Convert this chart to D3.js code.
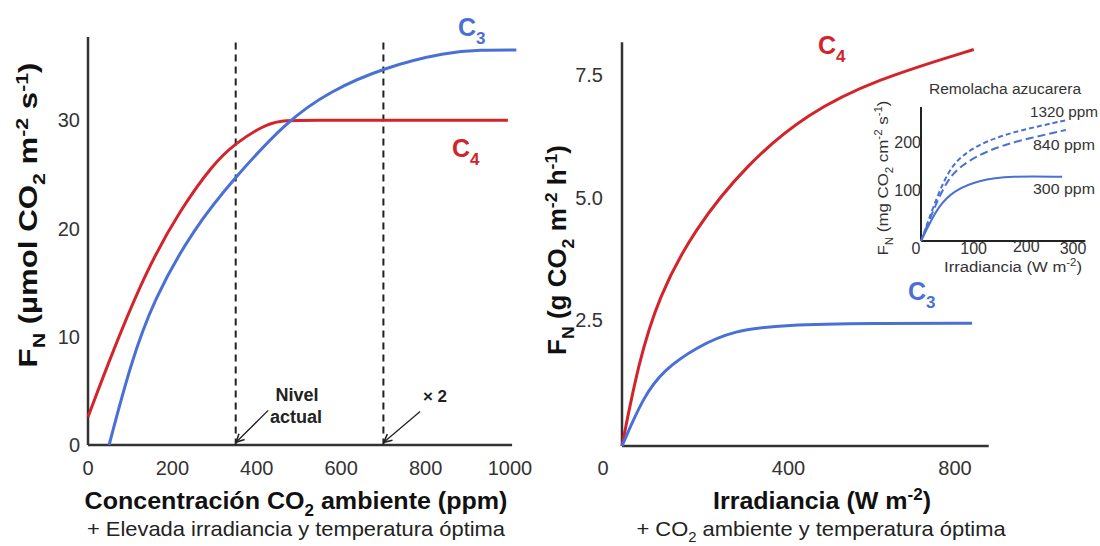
<!DOCTYPE html>
<html><head><meta charset="utf-8">
<script src="https://cdn.jsdelivr.net/npm/d3@7"></script>
<style>body{margin:0;background:#fff}svg{display:block}text{font-family:"Liberation Sans",Arial,sans-serif}</style>
</head><body><svg id="c" width="1100" height="546"></svg>
<script>
// ---------- DATA ----------
// Left panel: FN (µmol CO2 m-2 s-1) vs ambient CO2 (ppm)
const co2C4 = [[0,2.6],[60,8.8],[139,16.2],[218,21.7],[297,26.0],[350,27.9],[415,29.5],[455,30],[520,30],[750,30],[995,30]];
const co2C3 = [[50,0],[100,7.4],[155,13.4],[250,20.0],[350,24.8],[470,29.9],[573,32.7],[703,34.9],[850,36.3],[930,36.5],[1015,36.5]];
const co2XTicks = [0,200,400,600,800,1000];
const co2YTicks = [0,10,20,30];
const co2Marks = [350,700];           // nivel actual, x2
// Right panel: FN (g CO2 m-2 h-1) vs irradiance (W m-2)
const irrC4 = [[0,0],[39,1.68],[88,3.04],[172,4.40],[301,5.76],[446,6.78],[607,7.46],[845,8.08]];
const irrC3 = [[0,0],[51,1.0],[100,1.55],[180,2.02],[269,2.36],[390,2.47],[600,2.5],[841,2.5]];
const irrXTicks = [0,400,800];
const irrYTicks = ["2.5","5.0","7.5"];
// Inset: sugar beet, FN (mg CO2 cm-2 s-1) vs irradiance
const beet300 = [[0,0],[33,75],[64,106],[108,127],[171,136],[268,134]];
const beet840 = [[0,0],[45,124],[77,159],[127,190],[190,211],[275,232]];
const beet1320 = [[0,0],[45,138],[77,180],[127,211],[190,232],[278,253]];
const insetXTicks = [0,100,200,300];
const insetYTicks = [100,200];
const insetSeries = ["1320 ppm","840 ppm","300 ppm"];

const RED = "#d3232b", BLUE = "#4a70d6", AX = "#333";
const svg = d3.select("#c");

function rich(sel, parts, fs){
  let shift = 0;
  parts.forEach(p => {
    const [t, k] = typeof p === "string" ? [p, ""] : p;
    const target = k === "sub" ? 0.3*fs : k === "sup" ? -0.38*fs : 0;
    sel.append("tspan").attr("dy", target - shift).attr("font-size", k ? fs*0.68 : fs).text(t);
    shift = target;
  });
  return sel;
}
// place a text centred at (cx,cy) [baseline], rotated, stretched along its length to target width
function fit(sel, cx, cy, rot, target){
  sel.attr("text-anchor","middle");
  const w = sel.node().getBBox().width;
  sel.attr("transform", `translate(${cx},${cy}) rotate(${rot}) scale(${target/w},1)`);
  return sel;
}
const line = (x, y) => d3.line().x(d => x(d[0])).y(d => y(d[1])).curve(d3.curveBasis);

// ---------- LEFT PANEL ----------
const xL = d3.scaleLinear().domain([0,1000]).range([88,510]);
const yL = d3.scaleLinear().domain([0,37.7]).range([445,37]);
const gL = svg.append("g");
gL.append("line").attr("x1",xL(0)).attr("x2",xL(1005)).attr("y1",yL(0)).attr("y2",yL(0)).attr("stroke",AX).attr("stroke-width",2.5);
gL.append("line").attr("x1",xL(0)).attr("x2",xL(0)).attr("y1",yL(0)).attr("y2",yL(37.7)).attr("stroke",AX).attr("stroke-width",2.5);
gL.selectAll(".xt").data(co2XTicks).join("text").attr("x",d=>xL(d)).attr("y",475).attr("text-anchor","middle")
  .attr("font-size",20).attr("fill",AX).text(d=>d);
gL.selectAll(".yt").data(co2YTicks).join("text").attr("x",80).attr("y",d=>yL(d)+7).attr("text-anchor","end")
  .attr("font-size",20).attr("fill",AX).text(d=>d);
gL.selectAll(".dash").data(co2Marks).join("line").attr("x1",d=>xL(d)).attr("x2",d=>xL(d))
  .attr("y1",yL(37.2)).attr("y2",yL(0)).attr("stroke","#222").attr("stroke-width",2).attr("stroke-dasharray","7,5");
gL.append("path").attr("d",line(xL,yL)(co2C4)).attr("fill","none").attr("stroke",RED).attr("stroke-width",3);
gL.append("path").attr("d",line(xL,yL)(co2C3)).attr("fill","none").attr("stroke",BLUE).attr("stroke-width",3);

svg.append("defs").append("marker").attr("id","arr").attr("viewBox","0 0 10 10").attr("refX",9).attr("refY",5)
  .attr("markerWidth",10).attr("markerHeight",10).attr("orient","auto").attr("markerUnits","userSpaceOnUse")
  .append("path").attr("d","M1,1 L9,5 L1,9").attr("fill","none").attr("stroke","#222").attr("stroke-width",1.6);
const arrows = [[427,3.2,351,0.25],[787,3.1,701,0.25]];
gL.selectAll(".arr").data(arrows).join("line").attr("x1",d=>xL(d[0])).attr("y1",d=>yL(d[1]))
  .attr("x2",d=>xL(d[2])).attr("y2",d=>yL(d[3])).attr("stroke","#222").attr("stroke-width",1.3).attr("marker-end","url(#arr)");
gL.append("text").attr("x",297).attr("y",401).attr("text-anchor","middle").attr("font-size",18).attr("font-weight","bold").attr("fill","#222").text("Nivel");
gL.append("text").attr("x",296).attr("y",423).attr("text-anchor","middle").attr("font-size",18).attr("font-weight","bold").attr("fill","#222").text("actual");
gL.append("text").attr("x",435).attr("y",402).attr("text-anchor","middle").attr("font-size",17).attr("font-weight","bold").attr("fill","#222").text("× 2");

rich(gL.append("text").attr("x",458).attr("y",36).attr("font-size",25).attr("font-weight","bold").attr("fill",BLUE),["C",["3","sub"]],25);
rich(gL.append("text").attr("x",452).attr("y",157).attr("font-size",25).attr("font-weight","bold").attr("fill",RED),["C",["4","sub"]],25);

fit(rich(gL.append("text").attr("font-weight","bold").attr("fill","#111"),
  ["F",["N","sub"]," (µmol CO",["2","sub"]," m",["-2","sup"]," s",["-1","sup"],")"],25), 37, 215, -90, 305);
fit(rich(gL.append("text").attr("font-weight","bold").attr("fill","#111"),
  ["Concentración CO",["2","sub"]," ambiente (ppm)"],23), 296, 509, 0, 423);
fit(gL.append("text").attr("font-size",20.5).attr("fill","#222").text("+ Elevada irradiancia y temperatura óptima"), 296, 536, 0, 419);

// ---------- RIGHT PANEL ----------
const xR = d3.scaleLinear().domain([0,800]).range([622,955]);
const yR = d3.scaleLinear().domain([0,7.5]).range([446,78]);
const gR = svg.append("g");
gR.append("line").attr("x1",xR(0)).attr("x2",xR(881)).attr("y1",yR(0)).attr("y2",yR(0)).attr("stroke",AX).attr("stroke-width",2.5);
gR.append("line").attr("x1",xR(0)).attr("x2",xR(0)).attr("y1",yR(0)).attr("y2",yR(8.23)).attr("stroke",AX).attr("stroke-width",2.5);
gR.selectAll(".xt").data(irrXTicks).join("text").attr("x",d=>xR(d)+(d===0?-19:0)).attr("y",475).attr("text-anchor","middle")
  .attr("font-size",20).attr("fill",AX).text(d=>d);
gR.selectAll(".yt").data(irrYTicks).join("text").attr("x",603).attr("y",d=>yR(+d)+4).attr("text-anchor","end")
  .attr("font-size",20).attr("fill",AX).text(d=>d);
gR.append("path").attr("d",line(xR,yR)(irrC4)).attr("fill","none").attr("stroke",RED).attr("stroke-width",3);
gR.append("path").attr("d",line(xR,yR)(irrC3)).attr("fill","none").attr("stroke",BLUE).attr("stroke-width",3);
rich(gR.append("text").attr("x",818).attr("y",54).attr("font-size",25).attr("font-weight","bold").attr("fill",RED),["C",["4","sub"]],25);
rich(gR.append("text").attr("x",908).attr("y",300).attr("font-size",25).attr("font-weight","bold").attr("fill",BLUE),["C",["3","sub"]],25);
fit(rich(gR.append("text").attr("font-weight","bold").attr("fill","#111"),
  ["F",["N","sub"]," (g CO",["2","sub"]," m",["-2","sup"]," h",["-1","sup"],")"],25), 566, 250, -90, 210);
fit(rich(gR.append("text").attr("font-weight","bold").attr("fill","#111"),
  ["Irradiancia (W m",["-2","sup"],")"],23), 822, 509, 0, 218);
fit(rich(gR.append("text").attr("fill","#222"),
  ["+ CO",["2","sub"]," ambiente y temperatura óptima"],20.5), 821, 536, 0, 370);

// ---------- INSET ----------
const xI = d3.scaleLinear().domain([0,300]).range([921,1079]);
const yI = d3.scaleLinear().domain([0,280]).range([241,107]);
const gI = svg.append("g");
gI.append("line").attr("x1",xI(0)).attr("x2",xI(312)).attr("y1",yI(0)).attr("y2",yI(0)).attr("stroke","#222").attr("stroke-width",2);
gI.append("line").attr("x1",xI(0)).attr("x2",xI(0)).attr("y1",yI(0)).attr("y2",yI(280)).attr("stroke","#222").attr("stroke-width",2);
gI.selectAll(".xt").data(insetXTicks).join("text").attr("x",d=>d===0?916:xI(d)-(d===300?6:0)).attr("y",d=>d===200?252:254)
  .attr("text-anchor","middle").attr("font-size",16).attr("fill",AX).text(d=>d);
gI.selectAll(".yt").data(insetYTicks).join("text").attr("x",921).attr("y",d=>yI(d)+3).attr("text-anchor","end")
  .attr("font-size",16).attr("fill",AX).text(d=>d);
gI.append("path").attr("d",line(xI,yI)(beet300)).attr("fill","none").attr("stroke",BLUE).attr("stroke-width",2);
gI.append("path").attr("d",line(xI,yI)(beet840)).attr("fill","none").attr("stroke",BLUE).attr("stroke-width",2).attr("stroke-dasharray","8,4");
gI.append("path").attr("d",line(xI,yI)(beet1320)).attr("fill","none").attr("stroke",BLUE).attr("stroke-width",2).attr("stroke-dasharray","5,3");
const labelPos = [[1064,117,68],[1064,150,62],[1064,194,62]];
insetSeries.forEach((s,i)=>fit(gI.append("text").attr("font-size",15).attr("fill","#333").text(s), labelPos[i][0], labelPos[i][1], 0, labelPos[i][2]));
fit(gI.append("text").attr("font-size",15).attr("fill","#333").text("Remolacha azucarera"), 1005, 94, 0, 153);
fit(rich(gI.append("text").attr("fill","#333"),
  ["F",["N","sub"]," (mg CO",["2","sub"]," cm",["-2","sup"]," s",["-1","sup"],")"],15), 888, 178, -90, 155);
fit(rich(gI.append("text").attr("fill","#333"),
  ["Irradiancia (W m",["-2","sup"],")"],15), 1013, 272, 0, 138);
</script></body></html>
